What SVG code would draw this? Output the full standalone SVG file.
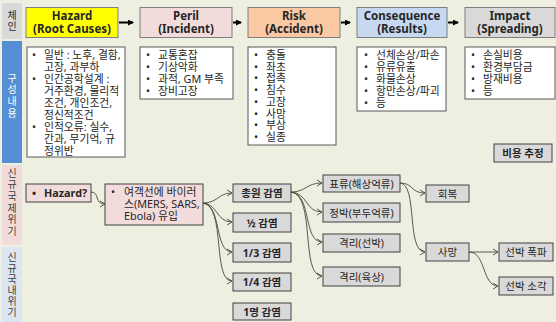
<svg xmlns="http://www.w3.org/2000/svg" width="556" height="322" viewBox="0 0 556 322">
<defs>
<style>
text{font-family:'Noto Sans','Noto Sans CJK KR',sans-serif;fill:#262626}
.hd{font-size:11.5px;font-weight:bold;text-anchor:middle}
.ct{font-size:10.8px}
.side{font-size:10px;font-family:'Noto Sans CJK KR',sans-serif;writing-mode:vertical-rl;text-orientation:upright;letter-spacing:1.6px}
.hbox{stroke:#7f7f7f;stroke-width:1}
.wbox{fill:#fff;stroke:#595959;stroke-width:1}
.gbox{fill:#d9d9d9;stroke:#404040;stroke-width:1}
.pbox{fill:#f2dcdb;stroke:#404040;stroke-width:1}
.bt{font-size:10.5px;font-weight:bold;text-anchor:middle}
.nt{font-size:10.5px;text-anchor:middle}
.ha{stroke:#000;stroke-width:2;fill:none}
.cn{stroke:#4a4a38;stroke-width:0.9;fill:none;marker-end:url(#oa)}
</style>
<marker id="ta" markerWidth="6" markerHeight="6" refX="5" refY="3" orient="auto" markerUnits="userSpaceOnUse"><path d="M0,0 L6,3 L0,6 Z" fill="#000"/></marker>
<marker id="oa" markerWidth="7" markerHeight="8" refX="6" refY="4" orient="auto" markerUnits="userSpaceOnUse"><path d="M1,1 L6,4 L1,7" fill="none" stroke="#4a4a38" stroke-width="0.9"/></marker>
</defs>
<rect width="556" height="322" fill="#edefe1"/>

<g id="side">
<rect x="2" y="3" width="20" height="36" fill="#d9d9d9"/>
<text class="side" x="12" y="10">체인</text>
<rect x="2" y="41" width="20" height="122" fill="#558ed5"/>
<text class="side" x="12" y="73" style="fill:#fff">구성내용</text>
<rect x="2" y="165" width="20" height="80" fill="#f2dcdb"/>
<text class="side" x="12" y="168" style="fill:#404040">신규국제위기</text>
<rect x="2" y="247" width="20" height="75" fill="#dce6f2"/>
<text class="side" x="12" y="252" style="fill:#404040;letter-spacing:1.1px">신규국내위기</text>
</g>

<g id="h-hazard"><rect class="hbox" x="26" y="7.5" width="92" height="30" fill="#ffff00"/><text class="hd" x="72" y="20">Hazard<tspan x="72" dy="13">(Root Causes)</tspan></text></g>
<g id="h-peril"><rect class="hbox" x="140" y="7.5" width="92" height="30" fill="#f2dcdb"/><text class="hd" x="186" y="20">Peril<tspan x="186" dy="13">(Incident)</tspan></text></g>
<g id="h-risk"><rect class="hbox" x="248" y="7.5" width="92" height="30" fill="#fac9a3"/><text class="hd" x="294" y="20">Risk<tspan x="294" dy="13">(Accident)</tspan></text></g>
<g id="h-cons"><rect class="hbox" x="357" y="7.5" width="90" height="30" fill="#c6d9f1"/><text class="hd" x="402" y="20">Consequence<tspan x="402" dy="13">(Results)</tspan></text></g>
<g id="h-impact"><rect class="hbox" x="465" y="7.5" width="90" height="30" fill="#d9d9d9"/><text class="hd" x="510" y="20">Impact<tspan x="510" dy="13">(Spreading)</tspan></text></g>

<g id="c-hazard"><rect class="wbox" x="27" y="47" width="98" height="110"/>
<text class="ct" x="32" y="59">•<tspan x="32" dy="24">•</tspan><tspan x="32" dy="48">•</tspan></text>
<text class="ct" x="44" y="59">일반 : 노후, 결함,<tspan x="44" dy="12">고장, 과부하</tspan><tspan x="44" dy="12">인간공학설계 :</tspan><tspan x="44" dy="12">거주환경, 물리적</tspan><tspan x="44" dy="12">조건, 개인조건,</tspan><tspan x="44" dy="12">정신적조건</tspan><tspan x="44" dy="12">인적오류: 실수,</tspan><tspan x="44" dy="12">간과, 무기억, 규</tspan><tspan x="44" dy="12">정위반</tspan></text></g>

<g id="c-peril"><rect class="wbox" x="140" y="47" width="93" height="52"/>
<text class="ct" x="146" y="59">•<tspan x="146" dy="12">•</tspan><tspan x="146" dy="12">•</tspan><tspan x="146" dy="12">•</tspan></text>
<text class="ct" x="158" y="59">교통혼잡<tspan x="158" dy="12">기상악화</tspan><tspan x="158" dy="12">과적, GM 부족</tspan><tspan x="158" dy="12">장비고장</tspan></text></g>

<g id="c-risk"><rect class="wbox" x="248" y="47" width="88" height="98"/>
<text class="ct" x="254" y="59">•<tspan x="254" dy="11.7">•</tspan><tspan x="254" dy="11.7">•</tspan><tspan x="254" dy="11.7">•</tspan><tspan x="254" dy="11.7">•</tspan><tspan x="254" dy="11.7">•</tspan><tspan x="254" dy="11.7">•</tspan><tspan x="254" dy="11.7">•</tspan></text>
<text class="ct" x="266" y="59">충돌<tspan x="266" dy="11.7">좌초</tspan><tspan x="266" dy="11.7">접촉</tspan><tspan x="266" dy="11.7">침수</tspan><tspan x="266" dy="11.7">고장</tspan><tspan x="266" dy="11.7">사망</tspan><tspan x="266" dy="11.7">부상</tspan><tspan x="266" dy="11.7">실종</tspan></text></g>

<g id="c-cons"><rect class="wbox" x="357" y="47" width="89" height="64"/>
<text class="ct" x="364" y="59">•<tspan x="364" dy="12">•</tspan><tspan x="364" dy="12">•</tspan><tspan x="364" dy="12">•</tspan><tspan x="364" dy="12">•</tspan></text>
<text class="ct" x="376" y="59">선체손상/파손<tspan x="376" dy="12">유류유출</tspan><tspan x="376" dy="12">화물손상</tspan><tspan x="376" dy="12">항만손상/파괴</tspan><tspan x="376" dy="12">등</tspan></text></g>

<g id="c-impact"><rect class="wbox" x="465" y="47" width="90" height="52"/>
<text class="ct" x="471" y="59">•<tspan x="471" dy="12">•</tspan><tspan x="471" dy="12">•</tspan><tspan x="471" dy="12">•</tspan></text>
<text class="ct" x="483" y="59">손실비용<tspan x="483" dy="12">환경부담금</tspan><tspan x="483" dy="12">방재비용</tspan><tspan x="483" dy="12">등</tspan></text></g>

<g id="cost"><rect class="gbox" x="494" y="144" width="58" height="18"/><text class="bt" x="523" y="157">비용 추정</text></g>

<g id="n-hazardq"><rect class="pbox" x="26" y="184" width="65" height="18"/><text class="ct" x="32" y="197" style="font-weight:bold">•<tspan x="44">Hazard?</tspan></text></g>
<g id="n-virus"><rect class="pbox" x="105" y="184" width="98" height="41"/><text class="ct" x="111" y="196">•</text><text class="ct" x="124" y="196">여객선에 바이러<tspan x="124" dy="12">스(MERS, SARS,</tspan><tspan x="124" dy="12">Ebola) 유입</tspan></text></g>

<g id="n-all"><rect class="gbox" x="233" y="184" width="58" height="18"/><text class="bt" x="262" y="197">총원 감염</text></g>
<g id="n-half"><rect class="gbox" x="233" y="213" width="58" height="19"/><text class="bt" x="262" y="226.5">½ 감염</text></g>
<g id="n-third"><rect class="gbox" x="233" y="243" width="58" height="19"/><text class="bt" x="262" y="256.5">1/3 감염</text></g>
<g id="n-quarter"><rect class="gbox" x="233" y="273" width="58" height="18"/><text class="bt" x="262" y="286">1/4 감염</text></g>
<g id="n-one"><rect class="gbox" x="233" y="303" width="58" height="17"/><text class="bt" x="262" y="315.5">1명 감염</text></g>

<g id="n-drift"><rect class="gbox" x="323" y="175" width="77" height="17"/><text class="nt" x="361.5" y="187.5">표류(해상억류)</text></g>
<g id="n-berth"><rect class="gbox" x="323" y="203" width="77" height="19"/><text class="nt" x="361.5" y="216.5">정박(부두억류)</text></g>
<g id="n-isoship"><rect class="gbox" x="323" y="234" width="77" height="18"/><text class="nt" x="361.5" y="247">격리(선박)</text></g>
<g id="n-isoland"><rect class="gbox" x="323" y="267" width="77" height="19"/><text class="nt" x="361.5" y="280.5">격리(육상)</text></g>

<g id="n-recover"><rect class="gbox" x="426" y="185" width="43" height="17"/><text class="nt" x="447.5" y="197.5">회복</text></g>
<g id="n-death"><rect class="gbox" x="426" y="243" width="43" height="18"/><text class="nt" x="447.5" y="256">사망</text></g>
<g id="n-blast"><rect class="gbox" x="499" y="243" width="54" height="18"/><text class="nt" x="526" y="256">선박 폭파</text></g>
<g id="n-burn"><rect class="gbox" x="499" y="277" width="54" height="18"/><text class="nt" x="526" y="290">선박 소각</text></g>

<g id="connectors">
<path class="ha" d="M119,22.5 H133" marker-end="url(#ta)"/>
<path class="ha" d="M233,22.5 H241" marker-end="url(#ta)"/>
<path class="ha" d="M341,22.5 H350" marker-end="url(#ta)"/>
<path class="ha" d="M448,22.5 H458" marker-end="url(#ta)"/>
<path class="cn" d="M91,192 C100,192 94,204 105,204"/>
<path class="cn" d="M203,203 C218,203 218,193 232,193"/>
<path class="cn" d="M203,203 C218,204 216,222 232,222"/>
<path class="cn" d="M203,203 C222,205 214,252 232,252"/>
<path class="cn" d="M203,203 C226,206 212,281 232,281"/>
<path class="cn" d="M291,192 C306,192 306,183 322,183"/>
<path class="cn" d="M291,192 C308,193 305,212 322,212"/>
<path class="cn" d="M291,192 C312,194 303,242 322,242"/>
<path class="cn" d="M291,192 C316,195 300,276 322,276"/>
<path class="cn" d="M400,183 C414,183 410,193 425,193"/>
<path class="cn" d="M400,183 C418,184 406,252 425,252"/>
<path class="cn" d="M469,252 H498"/>
<path class="cn" d="M469,252 C486,252 482,286 498,286"/>
</g>
</svg>
